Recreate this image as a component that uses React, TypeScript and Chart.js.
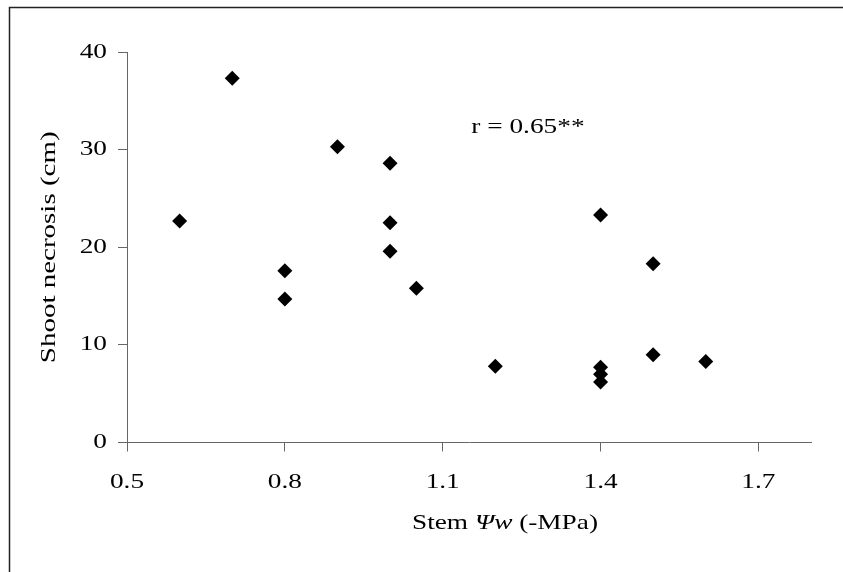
import React, { useEffect, useRef } from "react";
import { Chart, registerables } from "chart.js";

Chart.register(...registerables);

// ---- data ----
const xValues = [0.6, 0.7, 0.8, 0.8, 0.9, 1.0, 1.0, 1.0, 1.05, 1.2, 1.4, 1.4, 1.4, 1.4, 1.5, 1.5, 1.6];
const yValues = [22.7, 37.3, 17.6, 14.7, 30.3, 28.6, 22.5, 19.6, 15.8, 7.8, 23.3, 7.7, 7.0, 6.2, 18.3, 9.0, 8.3];
const xTicks = [0.5, 0.8, 1.1, 1.4, 1.7];
const xTickLabels = ["0.5", "0.8", "1.1", "1.4", "1.7"];
const yTicks = [0, 10, 20, 30, 40];
const yTickLabels = ["0", "10", "20", "30", "40"];
const xTitleParts = [
  { text: "Stem ", italic: false },
  { text: "Ψw", italic: true },
  { text: " (-MPa)", italic: false },
];
const yTitle = "Shoot necrosis (cm)";
const annotationText = "r = 0.65**";
const annotationAt = { x: 1.262, y: 32.3 };

const FAMILY = "'Liberation Serif', 'Times New Roman', serif";
const SIZE = 21;
const STRETCH = 1.3;

function drawStretched(
  ctx: CanvasRenderingContext2D,
  parts: { text: string; italic: boolean }[],
  cx: number,
  cy: number,
  align: "left" | "center" | "right",
  rotate: number,
  stretch: number
) {
  ctx.save();
  ctx.translate(cx, cy);
  if (rotate) ctx.rotate(rotate);
  ctx.scale(stretch, 1);
  ctx.textBaseline = "middle";
  ctx.textAlign = "left";
  const fonts = parts.map((p) => `${p.italic ? "italic " : ""}${SIZE}px ${FAMILY}`);
  let total = 0;
  const widths = parts.map((p, i) => {
    ctx.font = fonts[i];
    const w = ctx.measureText(p.text).width;
    total += w;
    return w;
  });
  let x = align === "left" ? 0 : align === "center" ? -total / 2 : -total;
  parts.forEach((p, i) => {
    ctx.font = fonts[i];
    ctx.fillText(p.text, x, 0);
    x += widths[i];
  });
  ctx.restore();
}

const framePlugin = {
  id: "frame",
  beforeDraw(chart: any) {
    const { ctx, width, height } = chart;
    ctx.save();
    ctx.fillStyle = "#ffffff";
    ctx.fillRect(0, 0, width, height);
    ctx.strokeStyle = "#222222";
    ctx.lineWidth = 1.5;
    ctx.beginPath();
    ctx.moveTo(9.5, height);
    ctx.lineTo(9.5, 7.5);
    ctx.lineTo(width, 7.5);
    ctx.stroke();
    ctx.restore();
  },
};

const textPlugin = {
  id: "texts",
  afterDraw(chart: any) {
    const { ctx } = chart;
    const xs = chart.scales.x;
    const ys = chart.scales.y;
    ctx.save();
    ctx.fillStyle = "#000";
    // y tick labels
    yTicks.forEach((v, i) => {
      drawStretched(ctx, [{ text: yTickLabels[i], italic: false }], 107, ys.getPixelForValue(v), "right", 0, STRETCH);
    });
    // x tick labels
    xTicks.forEach((v, i) => {
      drawStretched(ctx, [{ text: xTickLabels[i], italic: false }], xs.getPixelForValue(v), 482, "center", 0, STRETCH);
    });
    // annotation
    drawStretched(
      ctx,
      [{ text: annotationText, italic: false }],
      xs.getPixelForValue(annotationAt.x),
      ys.getPixelForValue(annotationAt.y),
      "center",
      0,
      STRETCH
    );
    // x title
    drawStretched(ctx, xTitleParts, 505, 523, "center", 0, STRETCH);
    // y title
    drawStretched(
      ctx,
      [{ text: yTitle, italic: false }],
      49,
      (ys.top + ys.bottom) / 2,
      "center",
      -Math.PI / 2,
      1.38
    );
    ctx.restore();
  },
};

export default function App() {
  const ref = useRef<HTMLCanvasElement>(null);
  useEffect(() => {
    document.body.style.margin = "0";
    const canvas = ref.current!;
    const chart = new Chart(canvas, {
      type: "scatter",
      data: {
        datasets: [
          {
            data: xValues.map((x, i) => ({ x, y: yValues[i] })),
            pointStyle: "rectRot",
            radius: 7.5,
            hoverRadius: 7.5,
            backgroundColor: "#000",
            borderColor: "#000",
            borderWidth: 0,
          },
        ],
      },
      options: {
        responsive: false,
        animation: false,
        devicePixelRatio: 1,
        layout: { padding: { left: 0, top: 52, right: 32, bottom: 0 } },
        plugins: { legend: { display: false }, tooltip: { enabled: false } },
        scales: {
          x: {
            type: "linear",
            min: 0.5,
            max: 1.8,
            afterBuildTicks: (s: any) => {
              s.ticks = xTicks.map((v) => ({ value: v }));
            },
            afterFit: (s: any) => {
              s.height = 129.5;
            },
            ticks: { display: false },
            grid: { drawOnChartArea: false, drawTicks: true, tickLength: 9, color: "#666" },
            border: { display: true, color: "#666", width: 1 },
          },
          y: {
            type: "linear",
            min: 0,
            max: 40,
            afterBuildTicks: (s: any) => {
              s.ticks = yTicks.map((v) => ({ value: v }));
            },
            afterFit: (s: any) => {
              s.width = 127;
            },
            ticks: { display: false },
            grid: { drawOnChartArea: false, drawTicks: true, tickLength: 9, color: "#666" },
            border: { display: true, color: "#666", width: 1 },
          },
        },
      },
      plugins: [framePlugin, textPlugin],
    });
    return () => chart.destroy();
  }, []);
  return (
    <div style={{ width: 843, height: 572 }}>
      <canvas ref={ref} width={843} height={572} style={{ display: "block" }} />
    </div>
  );
}
